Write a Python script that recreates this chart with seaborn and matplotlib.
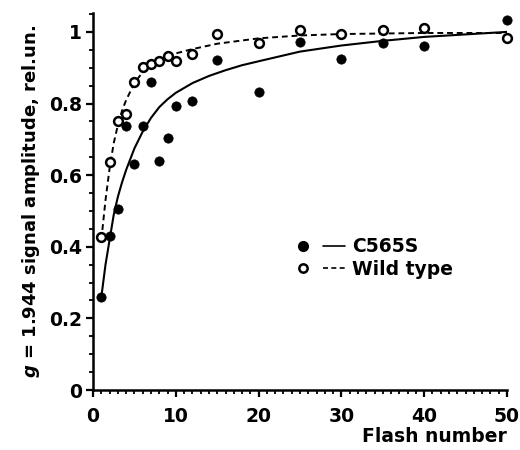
import pandas as pd
import seaborn as sns
import matplotlib.pyplot as plt
from matplotlib.lines import Line2D
from matplotlib.legend_handler import HandlerTuple
from matplotlib.ticker import MultipleLocator

# measured points
flash_c565s = [1, 2, 3, 4, 5, 6, 7, 8, 9, 10, 12, 15, 20, 25, 30, 35, 40, 50]
amp_c565s = [0.26, 0.43, 0.506, 0.737, 0.632, 0.737, 0.861, 0.64, 0.704, 0.793,
             0.806, 0.922, 0.832, 0.972, 0.925, 0.970, 0.961, 1.033]

flash_wt = [1, 2, 3, 4, 5, 6, 7, 8, 9, 10, 12, 15, 20, 25, 30, 35, 40, 50]
amp_wt = [0.426, 0.638, 0.752, 0.770, 0.859, 0.903, 0.909, 0.920, 0.933, 0.920,
          0.938, 0.993, 0.968, 1.006, 0.993, 1.004, 1.011, 0.982]

# fitted curves
fit_x_c565s = [1, 1.5, 2, 2.5, 3, 3.5, 4, 5, 6, 7, 8, 9, 10, 12, 14, 16, 18,
               20, 25, 30, 35, 40, 45, 50]
fit_y_c565s = [0.26, 0.35, 0.42, 0.49, 0.54, 0.58, 0.615, 0.675, 0.722, 0.76,
               0.79, 0.812, 0.83, 0.857, 0.877, 0.893, 0.907, 0.918, 0.945,
               0.962, 0.975, 0.986, 0.993, 1.0]

fit_x_wt = [1, 1.5, 2, 2.5, 3, 3.5, 4, 5, 6, 7, 8, 10, 12, 15, 20, 25, 30, 40,
            49.5, 50]
fit_y_wt = [0.42, 0.53, 0.62, 0.69, 0.74, 0.78, 0.81, 0.857, 0.888, 0.908,
            0.922, 0.94, 0.952, 0.967, 0.982, 0.99, 0.994, 0.997, 0.997, 0.985]

sns.set_style('ticks')
plt.rcParams['font.family'] = ['DejaVu Sans']
plt.rcParams['font.weight'] = 'bold'
plt.rcParams['mathtext.fontset'] = 'custom'
plt.rcParams['mathtext.it'] = 'DejaVu Sans:bold:italic'
plt.rcParams['mathtext.rm'] = 'DejaVu Sans:bold'
for key in ['text.color', 'axes.labelcolor', 'xtick.color', 'ytick.color',
            'axes.edgecolor']:
    plt.rcParams[key] = 'black'

fig = plt.figure(figsize=(5.2, 4.5), dpi=100)
ax = fig.add_axes([0.179, 0.1333, 0.796, 0.838])

sns.lineplot(x=fit_x_c565s, y=fit_y_c565s, color='black', lw=1.5, ax=ax)
sns.lineplot(x=fit_x_wt, y=fit_y_wt, color='black', lw=1.4, ax=ax,
             linestyle=(0, (3, 2)))
sns.scatterplot(x=flash_c565s, y=amp_c565s, color='black', s=45,
                edgecolor='black', linewidth=0.5, zorder=3, ax=ax, clip_on=False)
sns.scatterplot(x=flash_wt, y=amp_wt, facecolor='white', s=40,
                edgecolor='black', linewidth=1.8, zorder=4, ax=ax, clip_on=False)

ax.set_xlim(0, 50)
ax.set_ylim(0, 1.053)
ax.xaxis.set_major_locator(MultipleLocator(10))
ax.xaxis.set_minor_locator(MultipleLocator(1))
ax.yaxis.set_major_locator(MultipleLocator(0.2))
ax.yaxis.set_minor_locator(MultipleLocator(0.05))
ax.set_yticks([0, 0.2, 0.4, 0.6, 0.8, 1.0])
ax.set_yticklabels(['0', '0.2', '0.4', '0.6', '0.8', '1'])

for side in ['top', 'right']:
    ax.spines[side].set_visible(False)
for side in ['left', 'bottom']:
    ax.spines[side].set_linewidth(1.8)

ax.tick_params(which='major', direction='out', length=5, width=1.6,
               labelsize=13.5)
ax.tick_params(which='minor', direction='out', length=3, width=1.3)
ax.tick_params(axis='x', pad=7)
ax.tick_params(axis='y', pad=3)

ax.set_xlabel('Flash number', fontsize=13.5, fontweight='bold', loc='right',
              labelpad=1)
ax.set_ylabel(r'$\it{g}$ = 1.944 signal amplitude, rel.un.', fontsize=13,
              fontweight='bold', labelpad=5)

h1 = (Line2D([], [], marker='o', ls='none', color='black', markersize=7),
      Line2D([], [], color='black', lw=1.2))
h2 = (Line2D([], [], marker='o', ls='none', markerfacecolor='white',
             markeredgecolor='black', markeredgewidth=1.8, markersize=6),
      Line2D([], [], color='black', lw=1.2, ls=(0, (3, 2))))
ax.legend([h1, h2], ['C565S', 'Wild type'], frameon=False, fontsize=13.5,
          handler_map={tuple: HandlerTuple(ndivide=None, pad=0.5)},
          handlelength=2.8, handletextpad=0.4, labelspacing=0.2,
          loc='upper left', bbox_to_anchor=(0.44, 0.45))

fig.savefig('out.png', dpi=100)
